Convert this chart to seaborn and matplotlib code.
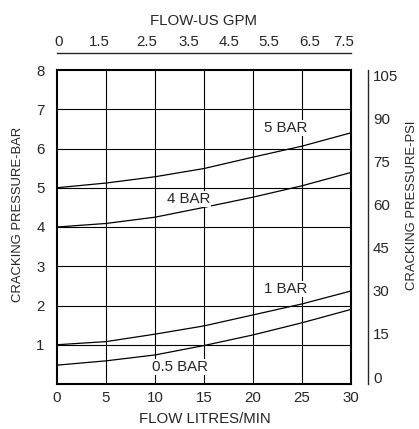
import numpy as np
import pandas as pd
import seaborn as sns
from matplotlib import pyplot as plt

# Data
flow_lpm = [0, 5, 10, 15, 20, 25, 30]
curve_5bar = [5.00, 5.12, 5.28, 5.49, 5.78, 6.06, 6.40]
curve_4bar = [4.00, 4.09, 4.25, 4.50, 4.76, 5.05, 5.39]
curve_1bar = [1.00, 1.08, 1.27, 1.48, 1.76, 2.04, 2.37]
curve_05bar = [0.48, 0.59, 0.74, 0.98, 1.25, 1.56, 1.90]
curve_names = ['5 BAR', '4 BAR', '1 BAR', '0.5 BAR']

gpm_labels = ['0', '1.5', '2.5', '3.5', '4.5', '5.5', '6.5', '7.5']
gpm_pos = [0.2, 4.3, 9.2, 13.5, 17.6, 21.6, 25.8, 29.3]
psi_labels = ['0', '15', '30', '45', '60', '75', '90', '105']
psi_values = [0, 15, 30, 45, 60, 75, 90, 105]

# label positions (flow, bar)
label_pos = {'5 BAR': (23.3, 6.52), '4 BAR': (13.4, 4.71),
             '1 BAR': (23.3, 2.42), '0.5 BAR': (12.5, 0.43)}

df = pd.DataFrame({
    'flow': flow_lpm * 4,
    'bar': curve_5bar + curve_4bar + curve_1bar + curve_05bar,
    'curve': np.repeat(curve_names, len(flow_lpm)),
})

FS = 10.8
FS_Y = 9.4
sns.set_style('white')
plt.rcParams['font.family'] = ['Liberation Sans', 'DejaVu Sans']
plt.rcParams['font.size'] = FS

fig = plt.figure(figsize=(4.19, 4.29), dpi=100)
ax = fig.add_axes([57 / 419, 45 / 429, 294 / 419, 314 / 429])

# grid
for x in range(5, 30, 5):
    ax.axvline(x, color='black', lw=0.8, zorder=1)
for y in range(1, 8):
    ax.axhline(y, color='black', lw=0.8, zorder=1)

sns.lineplot(data=df, x='flow', y='bar', units='curve', estimator=None,
             color='black', lw=0.9, ax=ax, zorder=2)

for name, (lx, ly) in label_pos.items():
    ax.text(lx, ly, name, ha='center', va='center', fontsize=FS, zorder=3,
            bbox=dict(facecolor='white', edgecolor='none', pad=1.0))

ax.set_xlim(0, 30)
ax.set_ylim(0, 8)
ax.set_xticks(range(0, 31, 5))
ax.set_yticks(range(1, 9))
ax.tick_params(length=0, labelsize=FS)
ax.tick_params(axis='x', pad=5)
ax.tick_params(axis='y', pad=9)
ax.set_xlabel('FLOW LITRES/MIN', fontsize=FS, va='center', ha='center')
ax.set_ylabel('CRACKING PRESSURE-BAR', fontsize=FS_Y, va='center',
              ha='center')
ax.xaxis.set_label_coords(0.503, -0.111)
ax.yaxis.set_label_coords(-0.134, 0.541)
for sp in ax.spines.values():
    sp.set_linewidth(1.5)
    sp.set_color('black')

# top GPM axis (17 px above the frame)
axt = ax.twiny()
axt.set_xlim(0, 30)
axt.set_xticks(gpm_pos)
axt.set_xticklabels(gpm_labels)
axt.tick_params(length=0, labelsize=FS, pad=3)
axt.spines['top'].set_position(('outward', 12.2))
axt.spines['top'].set_linewidth(1.0)
for s in ['left', 'right', 'bottom']:
    axt.spines[s].set_visible(False)
axt.set_xlabel('FLOW-US GPM', fontsize=FS, va='center', ha='center')
axt.xaxis.set_label_coords(0.498, 1.156)

# right PSI axis (17 px right of the frame)
axr = ax.twinx()
axr.set_ylim(-2.43, 106.74)
axr.set_yticks(psi_values)
axr.set_yticklabels(psi_labels)
axr.tick_params(length=0, labelsize=FS, pad=3.6)
axr.spines['right'].set_position(('outward', 12.2))
axr.spines['right'].set_linewidth(1.0)
for s in ['left', 'top', 'bottom']:
    axr.spines[s].set_visible(False)
axr.set_ylabel('CRACKING PRESSURE-PSI', fontsize=FS_Y, va='center',
               ha='center')
axr.yaxis.set_label_coords(1.207, 0.570)

fig.savefig('out.png', dpi=100)
